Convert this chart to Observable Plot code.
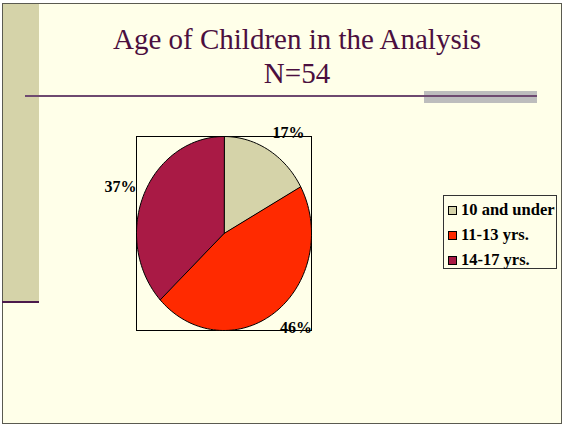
<!DOCTYPE html>
<html>
<head>
<meta charset="utf-8">
<script src="https://cdn.jsdelivr.net/npm/d3@7"></script>
<script src="https://cdn.jsdelivr.net/npm/@observablehq/plot@0.6"></script>
<style>
  html, body { margin: 0; padding: 0; background: #ffffff; }
  #page { position: relative; width: 564px; height: 427px; overflow: hidden; background: #ffffff; }
  #slide { position: absolute; left: 2px; top: 3px; width: 558px; height: 419px; background: #FFFFE9; border: 1.5px solid #5a5a50; }
  #sidebar { position: absolute; left: 3px; top: 4px; width: 36px; height: 298px; background: #D5D3A9; }
  #sideline { position: absolute; left: 2px; top: 301px; width: 37px; height: 2px; background: #4B1A4B; }
  #title { position: absolute; left: 0; width: 594px; text-align: center; font-family: "Liberation Serif", "Times New Roman", serif; font-size: 29px; color: #4B0F3F; line-height: 34px; top: 22px; }
  #graybar { position: absolute; left: 424px; top: 91px; width: 113px; height: 12px; background: #BDBDBD; }
  #hline { position: absolute; left: 25px; top: 95px; width: 512px; height: 2px; background: #6E4A70; }
  #chart { position: absolute; left: 90px; top: 110px; }
  #legend { position: absolute; left: 443px; top: 195px; width: 114px; height: 74px; border: 1px solid #333; box-sizing: border-box; font-family: "Liberation Serif", "Times New Roman", serif; font-weight: bold; font-size: 16.5px; color: #000; }
  .item { position: absolute; left: 4px; height: 17px; line-height: 17px; white-space: nowrap; }
  .sw { display: inline-block; width: 7px; height: 7px; border: 1px solid #000; margin-right: 4px; vertical-align: 0px; }
</style>
</head>
<body>
<div id="page">
  <div id="slide"></div>
  <div id="sidebar"></div>
  <div id="sideline"></div>
  <div id="title">Age of Children in the Analysis<br>N=54</div>
  <div id="graybar"></div>
  <div id="hline"></div>
  <div id="chart"></div>
  <div id="legend"></div>
</div>
<script>
const categories = ["10 and under", "11-13 yrs.", "14-17 yrs."];
const percents = [17, 46, 37];
const colors = ["#D5D3A9", "#FF2A00", "#A91A45"];

// build slice polygons from data (angle clockwise from 12 o'clock)
const total = d3.sum(percents);
const slices = [];
const labels = [];
let acc = 0;
categories.forEach((c, i) => {
  const a0 = acc / total * 2 * Math.PI;
  acc += percents[i];
  const a1 = acc / total * 2 * Math.PI;
  slices.push({category: c, x: 0, y: 0});
  const n = Math.max(2, Math.ceil((a1 - a0) / (Math.PI / 90)));
  for (let k = 0; k <= n; k++) {
    const a = a0 + (a1 - a0) * k / n;
    slices.push({category: c, x: Math.sin(a), y: Math.cos(a)});
  }
  const am = (a0 + a1) / 2;
  labels.push({label: percents[i] + "%", x: Math.sin(am) * 1.09, y: Math.cos(am) * 1.2, side: Math.sin(am) >= 0 ? "right" : "left"});
});

const plot = Plot.plot({
  width: 250,
  height: 240,
  marginLeft: 46,
  marginRight: 29,
  marginTop: 26,
  marginBottom: 20,
  x: {domain: [-1, 1], axis: null},
  y: {domain: [-1, 1], axis: null},
  color: {domain: categories, range: colors},
  style: {background: "transparent", overflow: "visible"},
  marks: [
    Plot.frame({stroke: "#000", strokeWidth: 1}),
    Plot.line(slices, {x: "x", y: "y", z: "category", fill: "category", stroke: "#000", strokeWidth: 1, curve: "linear-closed"}),
    Plot.text(labels.filter(d => d.side === "right"), {x: "x", y: "y", text: "label", textAnchor: "start", fontFamily: "Liberation Serif", fontWeight: "bold", fontSize: 16, fill: "#000"}),
    Plot.text(labels.filter(d => d.side === "left"), {x: "x", y: "y", text: "label", textAnchor: "end", fontFamily: "Liberation Serif", fontWeight: "bold", fontSize: 16, fill: "#000"})
  ]
});
document.getElementById("chart").appendChild(plot);

const legend = document.getElementById("legend");
categories.forEach((c, i) => {
  const div = document.createElement("div");
  div.className = "item";
  div.style.top = (5 + i * 25) + "px";
  div.innerHTML = `<span class="sw" style="background:${colors[i]}"></span>${c}`;
  legend.appendChild(div);
});
</script>
</body>
</html>
